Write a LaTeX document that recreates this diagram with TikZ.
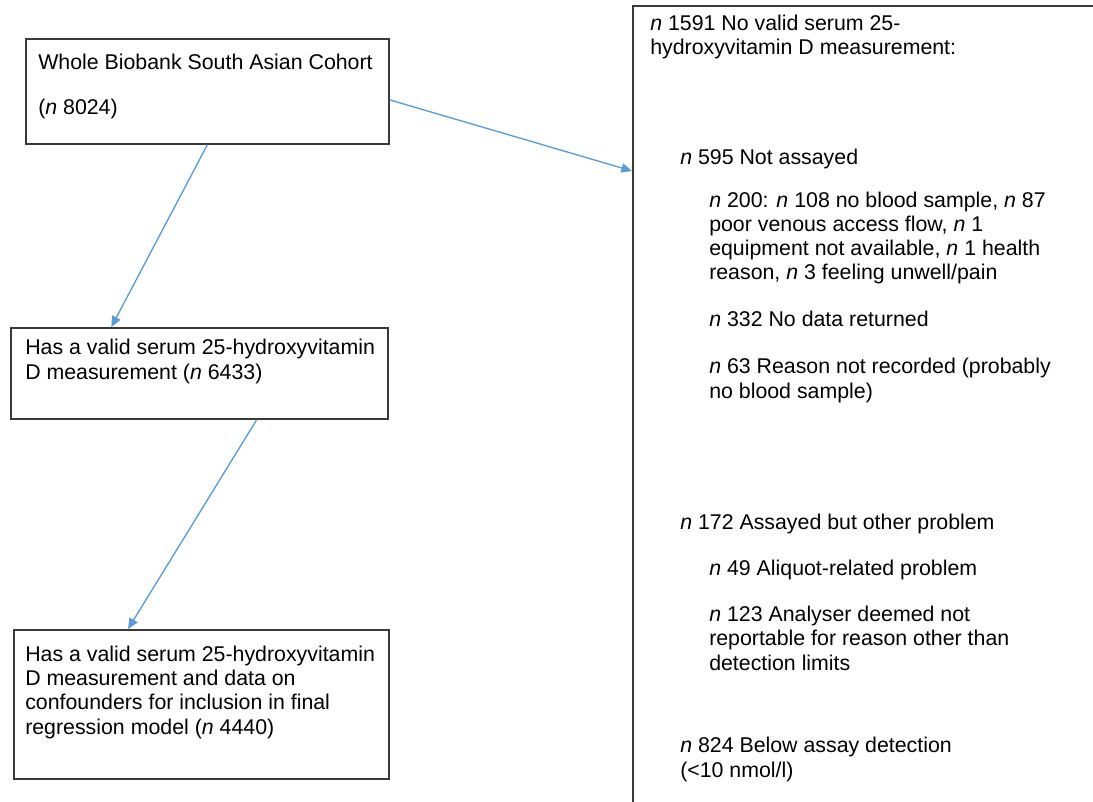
\documentclass[tikz,border=0pt]{standalone}
\usepackage{fontspec}
\setmainfont{Liberation Sans}
\usetikzlibrary{arrows.meta}
\definecolor{seta}{HTML}{5B9BD5}
\definecolor{borda}{HTML}{3A3A3A}

\begin{document}
\begin{tikzpicture}[x=0.75pt, y=-0.75pt,
    box/.style={draw=borda, line width=1.3pt, inner sep=0pt, anchor=north west},
    txt/.style={anchor=base west, align=left, inner sep=0pt, font=\fontsize{16}{18.2}\selectfont},
    arrow/.style={seta, line width=1pt, -{Triangle[length=8pt, width=7pt]}}]
    % Moldura
    \path[use as bounding box, clip] (0,0) rectangle (1093,802);
    % Caixas
    \node[box, minimum width=272.25pt, minimum height=78.75pt] (cohort) at (25,38) {};
    \node[box, minimum width=282.75pt, minimum height=68.25pt] (valid) at (10,327) {};
    \node[box, minimum width=281.25pt, minimum height=111.75pt] (final) at (13,629) {};
    \node[box, minimum width=450pt, minimum height=700pt] (excl) at (632,5) {};
    % Textos da esquerda (base = ultima linha)
    \node[txt] (tcohort) at (38,115) {Whole Biobank South Asian Cohort\\[16pt](\textit{n} 8024)};
    \node[txt] (tvalid) at (25,379) {Has a valid serum 25-hydroxyvitamin\\D measurement (\textit{n} 6433)};
    \node[txt] (tfinal) at (25,734) {Has a valid serum 25-hydroxyvitamin\\D measurement and data on\\confounders for inclusion in final\\regression model (\textit{n} 4440)};
    % Textos da direita
    \node[txt] (tall) at (650,55) {\textit{n} 1591 No valid serum 25-\\hydroxyvitamin D measurement:};
    \node[txt] (tnot) at (680,165) {\textit{n} 595 Not assayed};
    \node[txt] (t200) at (709,280) {\textit{n} 200: \textit{n} 108 no blood sample, \textit{n} 87\\poor venous access flow, \textit{n} 1\\equipment not available, \textit{n} 1 health\\reason, \textit{n} 3 feeling unwell/pain};
    \node[txt] (t332) at (709,327) {\textit{n} 332 No data returned};
    \node[txt] (t63) at (709,398) {\textit{n} 63 Reason not recorded (probably\\no blood sample)};
    \node[txt] (t172) at (680,529) {\textit{n} 172 Assayed but other problem};
    \node[txt] (t49) at (709,575) {\textit{n} 49 Aliquot-related problem};
    \node[txt] (t123) at (709,670) {\textit{n} 123 Analyser deemed not\\reportable for reason other than\\detection limits};
    \node[txt] (t824) at (680,777) {\textit{n} 824 Below assay detection\\(<10 nmol/l)};
    % Setas
    \draw[arrow] ([yshift=-6.4pt]cohort.east) -- ([yshift=-124.5pt]excl.north west);
    \draw[arrow] (cohort.south) -- ([xshift=-66pt]valid.north);
    \draw[arrow] ([xshift=43pt]valid.south) -- ([xshift=-55pt]final.north);
\end{tikzpicture}
\end{document}
